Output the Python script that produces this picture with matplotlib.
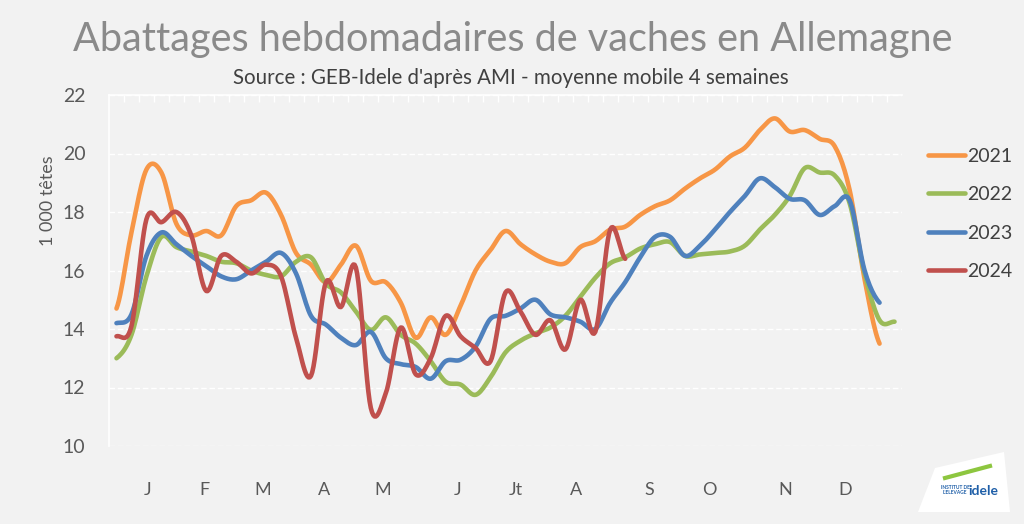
import numpy as np
import matplotlib
matplotlib.use("Agg")
import matplotlib.pyplot as plt
from matplotlib.patches import Polygon
import matplotlib.transforms as mtransforms

# ---------------- data ----------------
years = ["2021", "2022", "2023", "2024"]
colors = ["#F79646", "#9BBB59", "#4F81BD", "#C0504D"]

s2021 = [14.7, 17.3, 19.45, 19.35, 17.6, 17.2, 17.35, 17.2, 18.2, 18.4, 18.66, 17.9, 16.6, 16.2,
         15.6, 16.2, 16.85, 15.65, 15.6, 14.9, 13.7, 14.4, 13.8, 14.8, 16.0, 16.7, 17.35, 16.9,
         16.55, 16.3, 16.25, 16.8, 17.0, 17.4, 17.5, 17.9, 18.2, 18.4, 18.8, 19.15, 19.45, 19.9,
         20.2, 20.8, 21.2, 20.75, 20.8, 20.5, 20.25, 18.75, 15.7, 13.5]
s2022 = [13.0, 13.8, 15.8, 17.15, 16.8, 16.65, 16.5, 16.3, 16.25, 16.0, 15.85, 15.8, 16.3, 16.45,
         15.55, 15.25, 14.6, 13.97, 14.4, 13.8, 13.5, 12.9, 12.2, 12.1, 11.75, 12.35, 13.2, 13.6,
         13.85, 14.05, 14.45, 15.1, 15.75, 16.25, 16.45, 16.75, 16.9, 16.97, 16.5, 16.55, 16.6,
         16.65, 16.85, 17.4, 17.9, 18.55, 19.5, 19.35, 19.25, 18.3, 15.9, 14.3, 14.25]
s2023 = [14.2, 14.5, 16.5, 17.3, 16.9, 16.5, 16.15, 15.8, 15.7, 16.0, 16.3, 16.6, 15.9, 14.45,
         14.15, 13.7, 13.45, 13.9, 13.0, 12.8, 12.7, 12.3, 12.9, 12.95, 13.4, 14.35, 14.45, 14.7,
         15.0, 14.5, 14.4, 14.25, 14.0, 14.9, 15.6, 16.45, 17.15, 17.15, 16.5, 16.85, 17.4, 18.0,
         18.55, 19.15, 18.85, 18.45, 18.4, 17.9, 18.2, 18.4, 16.0, 14.9]
s2024 = [13.75, 14.1, 17.75, 17.65, 18.0, 17.2, 15.3, 16.5, 16.3, 15.9, 16.2, 15.8, 13.7, 12.4,
         15.6, 14.75, 16.1, 11.3, 11.8, 14.05, 12.45, 13.0, 14.45, 13.75, 13.35, 12.9, 15.25, 14.6,
         13.8, 14.3, 13.3, 15.0, 13.9, 17.4, 16.4]
series = [s2021, s2022, s2023, s2024]

n_weeks = 53
month_labels = ["J", "F", "M", "A", "M", "J", "Jt", "A", "S", "O", "N", "D"]
month_pos = [2.1, 5.9, 9.8, 13.9, 17.8, 22.8, 26.7, 30.7, 35.6, 39.6, 44.7, 48.7]
yticks = [10, 12, 14, 16, 18, 20, 22]


def smooth(y, k=12):
    """Catmull-Rom rendering of the weekly points (display smoothing)."""
    y = np.asarray(y, float)
    x = np.arange(len(y), dtype=float)
    p = np.concatenate([[y[0]], y, [y[-1]]])
    xs, ys = [], []
    t = np.linspace(0, 1, k, endpoint=False)
    for i in range(len(y) - 1):
        p0, p1, p2, p3 = p[i], p[i + 1], p[i + 2], p[i + 3]
        yy = 0.5 * ((2 * p1) + (-p0 + p2) * t + (2 * p0 - 5 * p1 + 4 * p2 - p3) * t ** 2
                    + (-p0 + 3 * p1 - 3 * p2 + p3) * t ** 3)
        xs.append(x[i] + t)
        ys.append(yy)
    xs.append([x[-1]])
    ys.append([y[-1]])
    return np.concatenate(xs), np.concatenate(ys)


bg = "#F2F2F2"
plt.rcParams["font.family"] = ["Lato", "DejaVu Sans"]

fig = plt.figure(figsize=(10.24, 5.24), dpi=100, facecolor=bg)
ax = fig.add_axes([109 / 1024, 1 - 446 / 524, (902 - 109) / 1024, (446 - 95) / 524])
ax.set_facecolor(bg)

for s, c, lab in zip(series, colors, years):
    xs, ys = smooth(s)
    ax.plot(xs, ys, color=c, lw=3.3, solid_capstyle="round", label=lab, zorder=3)

ax.set_xlim(-0.5, n_weeks - 0.5)
ax.set_ylim(10, 22)

# grid
for yv in yticks:
    ax.axhline(yv, color="white", lw=1.0, ls=(0, (4, 2)), zorder=1)

for sp in ["right", "bottom"]:
    ax.spines[sp].set_visible(False)
for sp in ["left", "top"]:
    ax.spines[sp].set_color("white")
    ax.spines[sp].set_linewidth(1.2)

# week ticks along top
ax.set_xticks(np.arange(0.5, n_weeks - 0.5, 1.0))
ax.xaxis.set_ticks_position("top")
ax.tick_params(axis="x", direction="in", length=5, color="white", width=1.0,
               labeltop=False, labelbottom=False)

ax.set_yticks(yticks)
ax.tick_params(axis="y", length=0, pad=17, labelsize=14, labelcolor="#595959")

# month labels
trans = mtransforms.blended_transform_factory(ax.transData, fig.transFigure)
for m, xp in zip(month_labels, month_pos):
    ax.text(xp, 1 - 490 / 524, m, transform=trans, ha="center", va="center",
            fontsize=13, color="#595959")

# titles
fig.text(0.501, 1 - 39 / 524, "Abattages hebdomadaires de vaches en Allemagne",
         ha="center", va="center", fontsize=28.5, color="#8A8A8A")
fig.text(0.499, 1 - 78 / 524, "Source : GEB-Idele d'après AMI - moyenne mobile 4 semaines",
         ha="center", va="center", fontsize=14.8, color="#404040")
fig.text(48 / 1024, 1 - 201 / 524, "1 000 têtes", rotation=90, ha="center", va="center",
         fontsize=13, color="#595959")

# legend
leg = ax.legend(loc="upper left", bbox_to_anchor=(920 / 1024, 1 - 140 / 524),
                bbox_transform=fig.transFigure, frameon=False, fontsize=14,
                handlelength=1.9, handletextpad=0.15, labelspacing=1.1, borderaxespad=0)
for t in leg.get_texts():
    t.set_color("#404040")

# logo approximation
logo = Polygon([[918 / 1024, 1 - 512 / 524], [1010 / 1024, 1 - 512 / 524],
                [1004 / 1024, 1 - 452 / 524], [935 / 1024, 1 - 468 / 524]],
               closed=True, transform=fig.transFigure, facecolor="white", edgecolor="none",
               joinstyle="round")
fig.patches.append(logo)
fig.text(983 / 1024, 1 - 491 / 524, "idele", ha="center", va="center", fontsize=10,
         fontweight="bold", color="#1F5FA8")
fig.text(955 / 1024, 1 - 490 / 524, "INSTITUT DE\nL'ELEVAGE", ha="center", va="center",
         fontsize=3.5, fontweight="bold", color="#1F5FA8", linespacing=1.0)
fig.add_artist(plt.Line2D([945 / 1024, 990 / 1024], [1 - 478 / 524, 1 - 466 / 524],
                          transform=fig.transFigure, color="#8DC63F", lw=3))

fig.savefig("out.png", dpi=100, facecolor=bg)
